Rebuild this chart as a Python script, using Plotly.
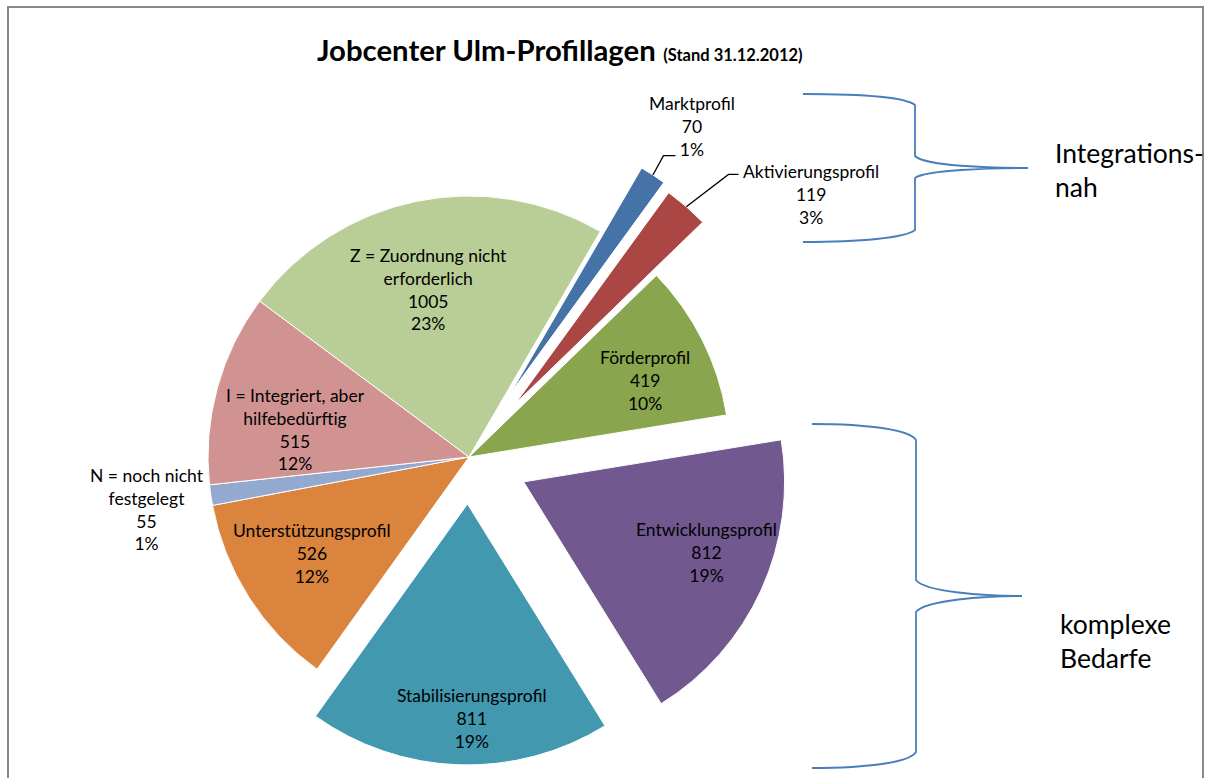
import math
import plotly.graph_objects as go

# ---- data ----
categories = ["Marktprofil", "Aktivierungsprofil", "Förderprofil", "Entwicklungsprofil",
              "Stabilisierungsprofil", "Unterstützungsprofil", "N = noch nicht festgelegt",
              "I = Integriert, aber hilfebedürftig", "Z = Zuordnung nicht erforderlich"]
label_names = ["Marktprofil", "Aktivierungsprofil", "Förderprofil", "Entwicklungsprofil",
               "Stabilisierungsprofil", "Unterstützungsprofil", "N = noch nicht<br>festgelegt",
               "I = Integriert, aber<br>hilfebedürftig", "Z = Zuordnung nicht<br>erforderlich"]
values = [70, 119, 419, 812, 811, 526, 55, 515, 1005]
pct_labels = ["1%", "3%", "10%", "19%", "19%", "12%", "1%", "12%", "23%"]

# ---- style ----
colors = ["#4572A7", "#AA4643", "#89A54E", "#71588F", "#4198AF",
          "#DB843D", "#93A9CF", "#D19392", "#B9CD96"]
explode = [0.29, 0.27, 0.0, 0.23, 0.18, 0.0, 0.0, 0.0, 0.0]
label_frac = [1.238, 1.387, 0.737, 0.751, 0.824, 0.705, 1.249, 0.675, 0.659]
label_dtheta = [1.2, 13.7, 3.1, -3.2, -3.2, 1.0, -0.8, -6.2, -2.2]
leaders = {0: [(-29, 29), (-17, 29)], 1: [(-82, -20), (-72, -20)]}

W, H = 1206, 778
CX, CY, R = 469, 457, 261
ROT = 30.2
FONT = "Lato"
TRANSP = "rgba(0,0,0,0)"


def px(x):
    return x / W


def py(y):
    return 1 - y / H


total = sum(values)
mids = []
acc = ROT
for v in values:
    span = v / total * 360
    mids.append(acc + span / 2)
    acc += span


def unit(deg):
    a = math.radians(deg)
    return math.sin(a), -math.cos(a)


def vertex(i):
    ux, uy = unit(mids[i])
    return CX + explode[i] * R * ux, CY + explode[i] * R * uy


def pie_trace(cx, cy, show):
    cols = [c if s else TRANSP for c, s in zip(colors, show)]
    lcols = ["white" if s else TRANSP for s in show]
    return go.Pie(
        labels=categories, values=values, sort=False, direction="clockwise",
        rotation=ROT, textinfo="none", hoverinfo="skip", showlegend=False,
        marker=dict(colors=cols, line=dict(color=lcols, width=1)),
        domain=dict(x=[px(cx - R), px(cx + R)], y=[py(cy + R), py(cy - R)]),
    )


fig = go.Figure()
fig.add_trace(pie_trace(CX, CY, [e == 0 for e in explode]))
for i, e in enumerate(explode):
    if e > 0:
        vx, vy = vertex(i)
        fig.add_trace(pie_trace(vx, vy, [j == i for j in range(len(values))]))

annotations = []
shapes = []
for i in range(len(values)):
    vx, vy = vertex(i)
    ux, uy = unit(mids[i] + label_dtheta[i])
    lx = vx + label_frac[i] * R * ux
    ly = vy + label_frac[i] * R * uy
    annotations.append(dict(
        x=px(lx), y=py(ly), xref="paper", yref="paper", showarrow=False,
        xanchor="center", yanchor="middle", align="center",
        text=f"{label_names[i]}<br>{values[i]}<br>{pct_labels[i]}",
        font=dict(family=FONT, size=17.5, color="#000000"),
    ))
    if i in leaders:
        ox, oy = unit(mids[i])
        sx, sy = vx + R * ox, vy + R * oy
        (ex, ey), (fx, fy) = leaders[i]
        path = (f"M {px(sx)},{py(sy)} L {px(lx + ex)},{py(ly + ey)} "
                f"L {px(lx + fx)},{py(ly + fy)}")
        shapes.append(dict(type="path", xref="paper", yref="paper", path=path,
                           line=dict(color="#000000", width=1.3)))

# title
annotations.append(dict(
    x=px(315), y=py(49), xref="paper", yref="paper", showarrow=False,
    xanchor="left", yanchor="middle",
    text="<b>Jobcenter Ulm-Profillagen</b> <span style='font-size:16.5px'><b>(Stand 31.12.2012)</b></span>",
    font=dict(family=FONT, size=29.3, color="#000000"),
))
# side texts
annotations.append(dict(
    x=px(1053), y=py(170), xref="paper", yref="paper", showarrow=False,
    xanchor="left", yanchor="middle", align="left",
    text="Integrations-<br>nah", font=dict(family=FONT, size=26.5, color="#000000"),
))
annotations.append(dict(
    x=px(1058), y=py(641), xref="paper", yref="paper", showarrow=False,
    xanchor="left", yanchor="middle", align="left",
    text="komplexe<br>Bedarfe", font=dict(family=FONT, size=26.5, color="#000000"),
))


def ppath(pts_cmds):
    out = []
    for cmd, pts in pts_cmds:
        out.append(cmd + " " + " ".join(f"{px(x)},{py(y)}" for x, y in pts))
    return " ".join(out)


brace_top = ppath([
    ("M", [(803, 94)]), ("C", [(860, 94), (905, 97), (915, 105)]), ("L", [(915, 156)]),
    ("C", [(925, 166), (990, 168), (1028, 168)]),
    ("M", [(1028, 168)]), ("C", [(990, 168), (925, 170), (915, 178)]), ("L", [(915, 230)]),
    ("C", [(905, 238), (860, 242), (803, 242)]),
])
brace_bot = ppath([
    ("M", [(812, 424)]), ("C", [(870, 424), (910, 430), (916, 440)]), ("L", [(916, 580)]),
    ("C", [(925, 592), (985, 596), (1022, 596)]),
    ("M", [(1022, 596)]), ("C", [(985, 596), (925, 600), (916, 612)]), ("L", [(916, 752)]),
    ("C", [(910, 762), (870, 768), (812, 768)]),
])
for p in (brace_top, brace_bot):
    shapes.append(dict(type="path", xref="paper", yref="paper", path=p,
                       line=dict(color="#4A7EBB", width=1.8)))

# chart border
shapes.append(dict(type="rect", xref="paper", yref="paper",
                   x0=px(8), x1=px(1203), y0=py(800), y1=py(7),
                   line=dict(color="#888888", width=2)))

fig.update_layout(
    width=W, height=H, margin=dict(l=0, r=0, t=0, b=0),
    paper_bgcolor="white", plot_bgcolor="white",
    annotations=annotations, shapes=shapes, showlegend=False,
)
fig.write_html(
    "out.html",
    config={"displayModeBar": False},
    post_script="document.body.style.margin='0';document.body.style.overflow='hidden';",
)
